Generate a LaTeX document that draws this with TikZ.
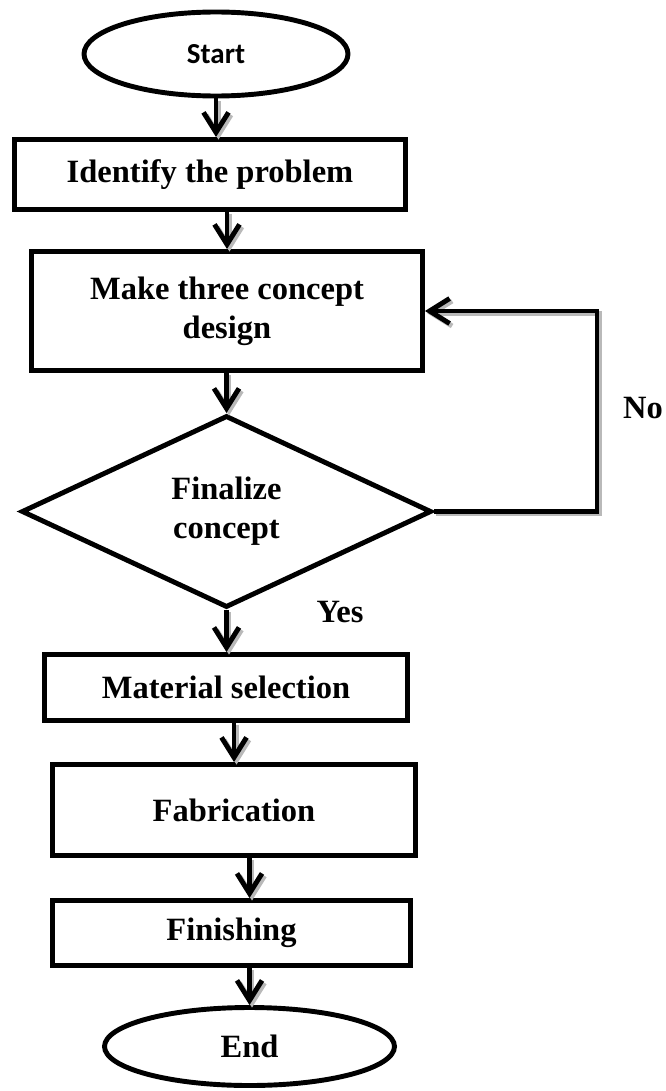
\documentclass[tikz,border=0pt]{standalone}
\usepackage{fontspec}
\setmainfont{Liberation Serif}
\newfontfamily\startfont{Carlito}
\usetikzlibrary{shapes.geometric, arrows.meta}

\begin{document}
\begin{tikzpicture}[
		>={Straight Barb[length=4mm, width=5mm]},
		every node/.style = {font=\fontsize{18.5}{22}\selectfont\bfseries},
		block/.style = {rectangle, draw, line width=2.8pt, align=center, inner sep=0pt},
		terminal/.style = {ellipse, draw, line width=2.8pt, inner sep=0pt},
		decision/.style = {diamond, draw, line width=2.8pt, align=center, inner sep=0pt},
		flow/.style = {->, line width=2.8pt, preaction={draw=gray!55, line width=2.8pt, transform canvas={shift={(0.05,-0.05)}}}}
	]
			\useasboundingbox (0,0) rectangle (13.32,-21.82);

			\node[terminal, minimum width=5.28cm, minimum height=1.68cm, font=\fontsize{16.5}{19}\selectfont\startfont\bfseries] (start) at (4.32,-1.08) {Start};
			\node[block, minimum width=7.82cm, minimum height=1.40cm] (identify) at (4.20,-3.49) {Identify the problem};
			\node[block, minimum width=7.82cm, minimum height=2.38cm] (concept) at (4.54,-6.22) {Make three concept\\design};
			\node[decision, minimum width=8.2cm, minimum height=3.84cm] (finalize) at (4.53,-10.23) {Finalize\\concept};
			\node[block, minimum width=7.26cm, minimum height=1.32cm] (material) at (4.52,-13.75) {Material selection};
			\node[block, minimum width=7.26cm, minimum height=1.82cm] (fabrication) at (4.68,-16.20) {Fabrication};
			\node[block, minimum width=7.16cm, minimum height=1.30cm] (finishing) at (4.63,-18.66) {Finishing};
			\node[terminal, minimum width=5.8cm, minimum height=1.56cm] (end) at (4.99,-20.93) {End};

			\coordinate (loop) at (11.94,-6.22);

			\draw[flow] (start.south) -- (start.south |- identify.north);
			\draw[flow] (concept.north |- identify.south) -- (concept.north);
			\draw[flow] (concept.south -| finalize.north) -- (finalize.north);
			\draw[flow] (finalize.south) -- (finalize.south |- material.north);
			\draw[flow] (fabrication.north |- material.south) -- (fabrication.north);
			\draw[flow] (end.north |- fabrication.south) -- (end.north |- finishing.north);
			\draw[flow] (end.north |- finishing.south) -- (end.north);
			\draw[flow] (finalize.east) -| (loop) -- (concept.east);

			% Answers
			\node (no) at (12.86,-8.16) {No};
			\node (yes) at (6.80,-12.24) {Yes};
		\end{tikzpicture}
\end{document}
